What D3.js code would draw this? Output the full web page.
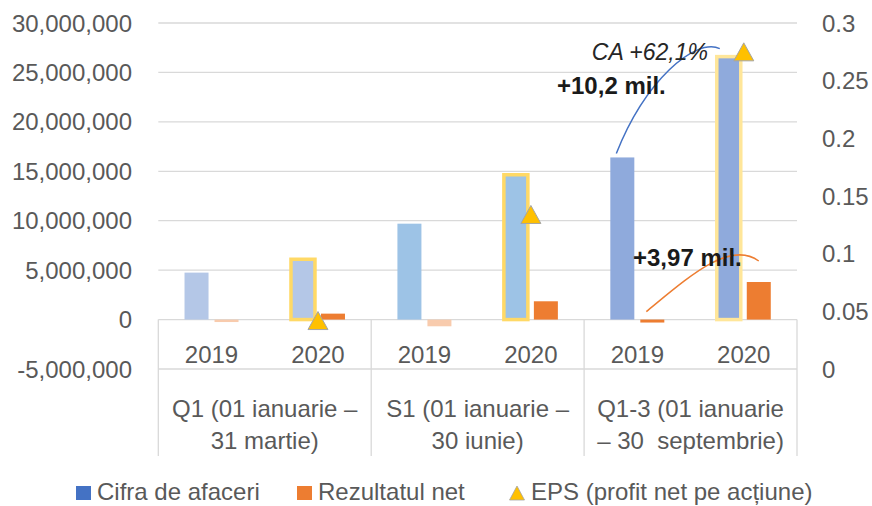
<!doctype html>
<html lang="ro">
	<head>
		<meta charset="utf-8">
		<title>Cifra de afaceri, rezultat net, EPS</title>
		<style>
			body { margin: 0; background: #fff; }
			text { font-family: "Liberation Sans", Arial, sans-serif; white-space: pre; }
		</style>
	</head>
	<body>
		<div id="chart"></div>

		<script src="https://cdn.jsdelivr.net/npm/d3@7/dist/d3.min.js"></script>
		<script>
			// data
			var groups = [
				["Q1 (01 ianuarie –", "31 martie)"],
				["S1 (01 ianuarie –", "30 iunie)"],
				["Q1-3 (01 ianuarie", "– 30  septembrie)"]
			];
			var years = ["2019", "2020"];
			var revenue = [4750000, 6100000, 9700000, 14650000, 16400000, 26600000];
			var netResult = [-250000, 600000, -680000, 1850000, -300000, 3800000];
			var eps = [null, 0.042, null, 0.134, null, 0.275];
			var leftTicks = [-5000000, 0, 5000000, 10000000, 15000000, 20000000, 25000000, 30000000];
			var rightTicks = [0, 0.05, 0.1, 0.15, 0.2, 0.25, 0.3];
			var rightLabels = ["0", "0.05", "0.1", "0.15", "0.2", "0.25", "0.3"];
			var legendItems = ["Cifra de afaceri", "Rezultatul net", "EPS (profit net pe acțiune)"];

			var revenueColors = ["#B4C7E7", "#B4C7E7", "#9DC3E6", "#9DC3E6", "#8FAADC", "#8FAADC"];
			var netColors = ["#F8CBAD", "#ED7D31", "#F8CBAD", "#ED7D31", "#ED7D31", "#ED7D31"];
			var outlineColors = ["#FFD966", "#FFD966", "#FFE699"];

			var width = 872, height = 506;
			var plotLeft = 158.3, plotRight = 797, plotTop = 23, plotBottom = 369;
			var textColor = "#595959", gridColor = "#D9D9D9";

			var svg = d3.select("#chart").append("svg")
				.attr("width", width)
				.attr("height", height);

			// one band per year inside each group
			var cells = d3.range(groups.length * years.length);
			var x = d3.scaleBand().domain(cells).range([plotLeft, plotRight]);
			var yL = d3.scaleLinear().domain([-5000000, 30000000]).range([plotBottom, plotTop]);
			var yR = d3.scaleLinear().domain([0, 0.3]).range([plotBottom, plotTop]);
			function cx(i) { return x(i) + x.bandwidth() / 2; }
			var fmt = d3.format(",");

			// gridlines
			svg.append("g").selectAll("line")
				.data(leftTicks)
				.enter().append("line")
				.attr("x1", plotLeft).attr("x2", plotRight)
				.attr("y1", function(d) { return yL(d); })
				.attr("y2", function(d) { return yL(d); })
				.attr("stroke", gridColor)
				.attr("stroke-width", 1.3);

			// left axis labels (plain hyphen for the minus, like Excel)
			svg.append("g").selectAll("text")
				.data(leftTicks)
				.enter().append("text")
				.attr("x", 132)
				.attr("y", function(d) { return yL(d); })
				.attr("dy", "0.36em")
				.attr("text-anchor", "end")
				.attr("font-size", 24)
				.attr("fill", textColor)
				.text(function(d) { return fmt(d).replace("\u2212", "-"); });

			// right axis labels
			svg.append("g").selectAll("text")
				.data(rightTicks)
				.enter().append("text")
				.attr("x", 822)
				.attr("y", function(d) { return yR(d); })
				.attr("dy", "0.36em")
				.attr("font-size", 24)
				.attr("fill", textColor)
				.text(function(d, i) { return rightLabels[i]; });

			// category axis: group separators
			var groupEdges = d3.range(groups.length + 1).map(function(g) {
				return plotLeft + g * x.bandwidth() * years.length;
			});
			svg.append("g").selectAll("line")
				.data(groupEdges)
				.enter().append("line")
				.attr("x1", function(d) { return d; })
				.attr("x2", function(d) { return d; })
				.attr("y1", yL(0)).attr("y2", 456)
				.attr("stroke", gridColor)
				.attr("stroke-width", 1.3);

			svg.append("g").selectAll("text")
				.data(cells)
				.enter().append("text")
				.attr("x", cx)
				.attr("y", 363)
				.attr("text-anchor", "middle")
				.attr("font-size", 24)
				.attr("fill", textColor)
				.text(function(d) { return years[d % years.length]; });

			var gl = svg.append("g").selectAll("text")
				.data(groups)
				.enter().append("text")
				.attr("text-anchor", "middle")
				.attr("font-size", 24)
				.attr("fill", textColor);
			gl.selectAll("tspan")
				.data(function(d, g) { return d.map(function(s) { return {s: s, g: g}; }); })
				.enter().append("tspan")
				.attr("x", function(d) { return (groupEdges[d.g] + groupEdges[d.g + 1]) / 2; })
				.attr("y", function(d, j) { return 417 + j * 31.5; })
				.text(function(d) { return d.s; });

			// revenue bars (2020 ones get the yellow outline)
			svg.append("g").selectAll("rect")
				.data(revenue)
				.enter().append("rect")
				.attr("x", function(d, i) { return cx(i) - 27; })
				.attr("width", 24)
				.attr("y", function(d) { return yL(Math.max(0, d)); })
				.attr("height", function(d) { return Math.abs(yL(d) - yL(0)); })
				.attr("fill", function(d, i) { return revenueColors[i]; })
				.attr("stroke", function(d, i) { return eps[i] != null ? outlineColors[Math.floor(i / 2)] : "none"; })
				.attr("stroke-width", 3.5);

			// net result bars
			svg.append("g").selectAll("rect")
				.data(netResult)
				.enter().append("rect")
				.attr("x", function(d, i) { return cx(i) + 3; })
				.attr("width", 24)
				.attr("y", function(d) { return yL(Math.max(0, d)); })
				.attr("height", function(d) { return Math.abs(yL(d) - yL(0)); })
				.attr("fill", function(d, i) { return netColors[i]; });

			// EPS triangles on the right axis
			function triangle(px, py, w, h) {
				return "M" + px + "," + (py - h / 2) + "L" + (px + w / 2) + "," + (py + h / 2) +
					"L" + (px - w / 2) + "," + (py + h / 2) + "Z";
			}
			svg.append("g").selectAll("path")
				.data(eps.map(function(d, i) { return {v: d, i: i}; }).filter(function(d) { return d.v != null; }))
				.enter().append("path")
				.attr("d", function(d) { return triangle(cx(d.i), yR(d.v), 20, 18); })
				.attr("fill", "#FFC000")
				.attr("stroke", "#A5A5A5")
				.attr("stroke-width", 1);

			// annotations
			var a = 4, b = 5;
			var p0 = [cx(a) - 21, yL(revenue[a]) - 4], p3 = [cx(b) - 24, yL(revenue[b]) - 8];
			svg.append("path")
				.attr("d", "M" + p0 + "C" + [p0[0] + 29, p0[1] - 73] + " " + [p3[0] - 25, p3[1] - 11] + " " + p3)
				.attr("fill", "none")
				.attr("stroke", "#4472C4")
				.attr("stroke-width", 1.5);
			var q0 = [cx(a) + 9, yL(0) - 8], q3 = [cx(b) + 15, yL(netResult[b]) - 21];
			svg.append("path")
				.attr("d", "M" + q0 + "C" + [q0[0] + 44, q0[1] - 36] + " " + [q3[0] - 29, q3[1] - 21] + " " + q3)
				.attr("fill", "none")
				.attr("stroke", "#ED7D31")
				.attr("stroke-width", 1.5);

			svg.append("text")
				.attr("x", 708).attr("y", 60)
				.attr("text-anchor", "end")
				.attr("font-size", 23)
				.attr("font-style", "italic")
				.attr("fill", "#262626")
				.text("CA +62,1%");
			svg.append("text")
				.attr("x", 557).attr("y", 94)
				.attr("font-size", 24)
				.attr("font-weight", "bold")
				.attr("fill", "#1a1a1a")
				.text("+10,2 mil.");
			svg.append("text")
				.attr("x", 633).attr("y", 266)
				.attr("font-size", 24)
				.attr("font-weight", "bold")
				.attr("fill", "#1a1a1a")
				.text("+3,97 mil.");

			// legend
			var legendX = [76, 297, 509];
			var lg = svg.append("g").selectAll("g")
				.data(legendItems)
				.enter().append("g")
				.attr("transform", function(d, i) { return "translate(" + legendX[i] + ",0)"; });
			lg.filter(function(d, i) { return i < 2; }).append("rect")
				.attr("y", 486)
				.attr("width", 15).attr("height", 14)
				.attr("fill", function(d, i) { return ["#4472C4", "#ED7D31"][i]; });
			lg.filter(function(d, i) { return i == 2; }).append("path")
				.attr("d", triangle(8, 493, 15, 14))
				.attr("fill", "#FFC000")
				.attr("stroke", "#A5A5A5")
				.attr("stroke-width", 0.8);
			lg.append("text")
				.attr("x", function(d, i) { return i < 2 ? 21 : 22; })
				.attr("y", 500)
				.attr("font-size", 24)
				.attr("fill", textColor)
				.text(function(d) { return d; });
		</script>
	</body>
</html>
